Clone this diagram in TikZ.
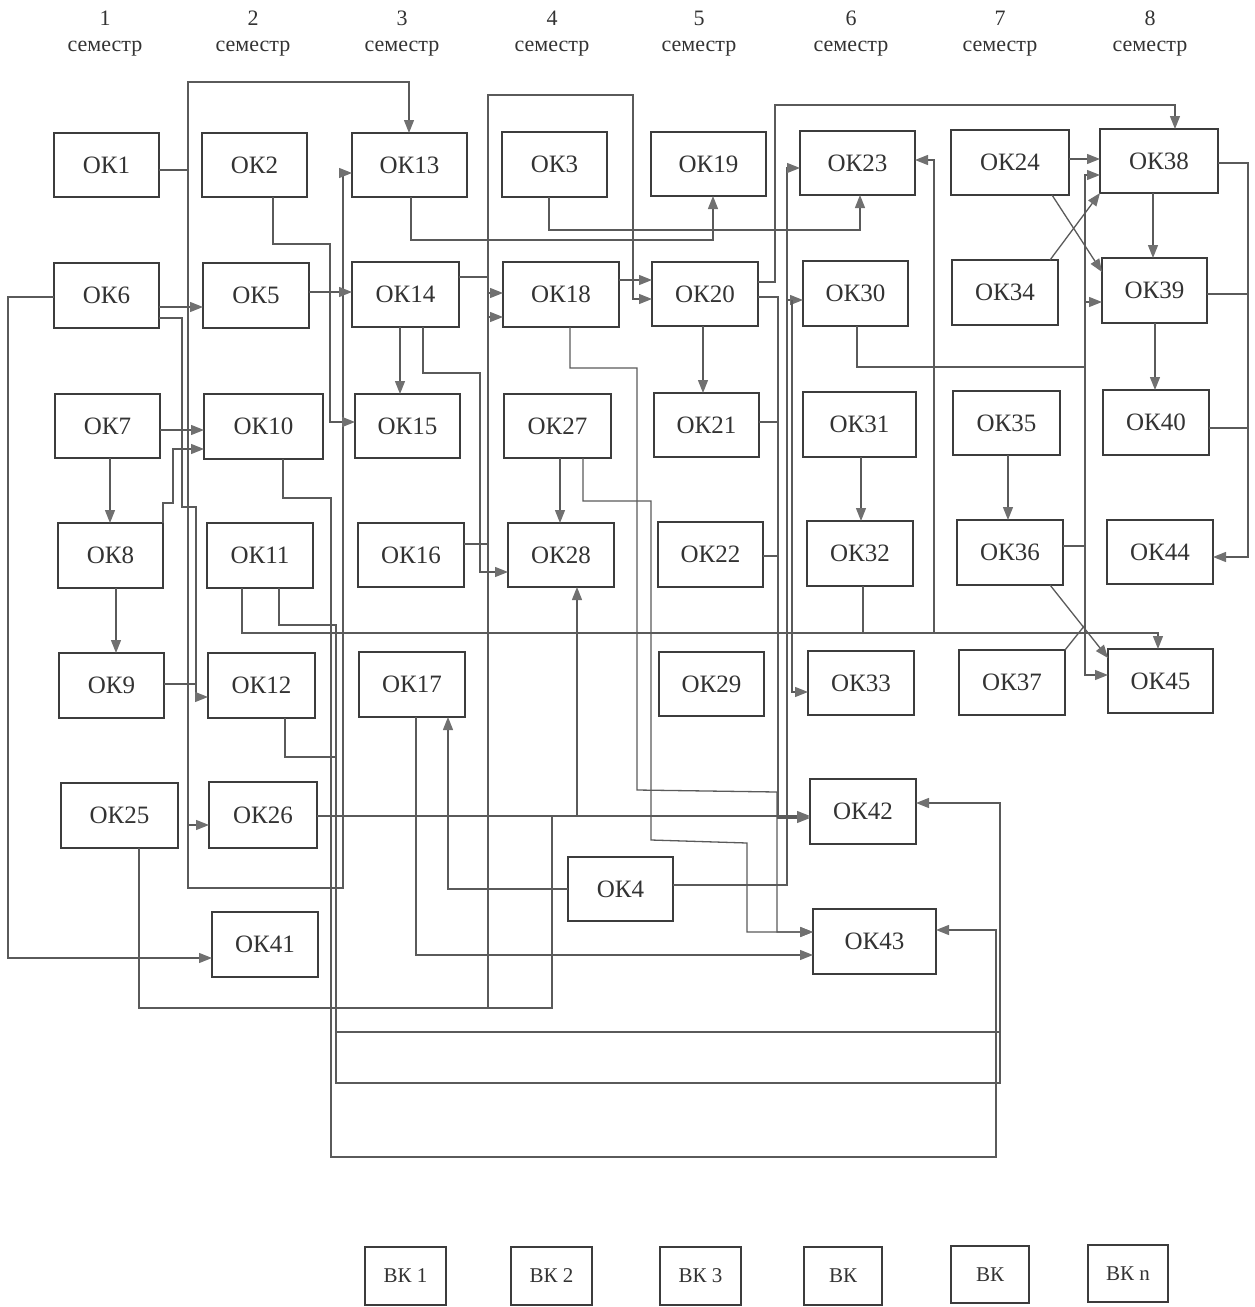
\documentclass[tikz,border=0pt]{standalone}
\usepackage{fontspec}
\setmainfont{Liberation Serif}
\usetikzlibrary{arrows.meta}
\definecolor{ln}{HTML}{5A5A5A}
\definecolor{bd}{HTML}{3C3C3C}
\definecolor{tx}{HTML}{333333}
\definecolor{ah}{HTML}{707070}
\tikzset{
 box/.style={draw=bd, line width=1.6pt, inner sep=0pt, outer sep=0pt, text=tx, font=\fontsize{25}{30}\selectfont},
 bkbox/.style={box, font=\fontsize{21}{25}\selectfont},
 con/.style={draw=ln, line width=1.3pt},
 arr/.style={con, -{Triangle[length=13pt,width=10pt,color=ah]}},
 hdr/.style={text=tx, font=\fontsize{22}{26}\selectfont, inner sep=0pt},
}
\newcommand\bx[6]{\node[box, minimum width={(#4-#2)*1pt}, minimum height={(#5-#3)*1pt}] (#1) at ({(#2+#4)/2},{(#3+#5)/2}) {#6};}
\newcommand\bkx[6]{\node[bkbox, minimum width={(#4-#2)*1pt}, minimum height={(#5-#3)*1pt}] (#1) at ({(#2+#4)/2},{(#3+#5)/2}) {#6};}
\begin{document}
\begin{tikzpicture}[x=1pt,y=-1pt]
\useasboundingbox (0,0) rectangle (1254,1307);
% headers
\foreach \i/\x in {1/105,2/253,3/402,4/552,5/699,6/851,7/1000,8/1150}{
  \node[hdr] (n\i) at (\x,18) {\i};
  \node[hdr] (s\i) at (\x,49) {семестр};
}
% boxes
\bx{ok1}{54}{133}{159}{197}{ОК1}
\bx{ok2}{202}{133}{307}{197}{ОК2}
\bx{ok13}{352}{133}{467}{197}{ОК13}
\bx{ok3}{502}{132}{607}{197}{ОК3}
\bx{ok19}{651}{132}{766}{196}{ОК19}
\bx{ok23}{800}{131}{915}{195}{ОК23}
\bx{ok24}{951}{130}{1069}{195}{ОК24}
\bx{ok38}{1100}{129}{1218}{193}{ОК38}
\bx{ok6}{54}{263}{159}{328}{ОК6}
\bx{ok5}{203}{263}{309}{328}{ОК5}
\bx{ok14}{352}{262}{459}{327}{ОК14}
\bx{ok18}{503}{262}{619}{327}{ОК18}
\bx{ok20}{652}{262}{758}{326}{ОК20}
\bx{ok30}{803}{261}{908}{326}{ОК30}
\bx{ok34}{952}{260}{1058}{325}{ОК34}
\bx{ok39}{1102}{258}{1207}{323}{ОК39}
\bx{ok7}{55}{394}{160}{458}{ОК7}
\bx{ok10}{204}{394}{323}{459}{ОК10}
\bx{ok15}{355}{394}{460}{458}{ОК15}
\bx{ok27}{504}{394}{611}{458}{ОК27}
\bx{ok21}{654}{393}{759}{457}{ОК21}
\bx{ok31}{803}{392}{916}{457}{ОК31}
\bx{ok35}{953}{391}{1060}{455}{ОК35}
\bx{ok40}{1103}{390}{1209}{455}{ОК40}
\bx{ok8}{58}{523}{163}{588}{ОК8}
\bx{ok11}{207}{523}{313}{588}{ОК11}
\bx{ok16}{358}{523}{464}{587}{ОК16}
\bx{ok28}{508}{523}{614}{587}{ОК28}
\bx{ok22}{658}{522}{763}{587}{ОК22}
\bx{ok32}{807}{521}{913}{586}{ОК32}
\bx{ok36}{957}{520}{1063}{585}{ОК36}
\bx{ok44}{1107}{520}{1213}{584}{ОК44}
\bx{ok9}{59}{653}{164}{718}{ОК9}
\bx{ok12}{208}{653}{315}{718}{ОК12}
\bx{ok17}{359}{652}{465}{717}{ОК17}
\bx{ok29}{659}{652}{764}{716}{ОК29}
\bx{ok33}{808}{651}{914}{715}{ОК33}
\bx{ok37}{959}{650}{1065}{715}{ОК37}
\bx{ok45}{1108}{649}{1213}{713}{ОК45}
\bx{ok25}{61}{783}{178}{848}{ОК25}
\bx{ok26}{209}{782}{317}{848}{ОК26}
\bx{ok42}{810}{779}{916}{844}{ОК42}
\bx{ok4}{568}{857}{673}{921}{ОК4}
\bx{ok43}{813}{909}{936}{974}{ОК43}
\bx{ok41}{212}{912}{318}{977}{ОК41}
\bkx{bk1}{365}{1247}{446}{1305}{ВК 1}
\bkx{bk2}{511}{1247}{592}{1305}{ВК 2}
\bkx{bk3}{660}{1247}{741}{1305}{ВК 3}
\bkx{bk4}{804}{1247}{882}{1305}{ВК}
\bkx{bk5}{951}{1246}{1029}{1303}{ВК}
\bkx{bk6}{1088}{1245}{1168}{1302}{ВК n}
% junction coordinates
\coordinate (j1) at (188,170);
\coordinate (j2) at (188,825);
\coordinate (j3) at (336,1032);
\coordinate (j4) at (488,277);
\coordinate (j5) at (577,816);
\coordinate (j6) at (792,300);
\coordinate (j7) at (934,633);
\coordinate (j8) at (1085,367);
\coordinate (j9) at (1085,625);
% connectors: column 1-2
\draw[arr] (ok1.east |- 0,170) -- (j1) -- (188,82) -- (409,82) -- (ok13.north -| 409,0);
\draw[arr] (j1) -- (188,888) -- (343,888) -- (343,173) -- (ok13.west |- 0,173);
\draw[arr] (j2) -- (ok26.west |- 0,825);
\draw[arr] (ok6.east |- 0,307) -- (ok5.west |- 0,307);
\draw[arr] (ok6.east |- 0,318) -- (182,318) -- (182,507) -- (196,507) -- (196,697) -- (ok12.west |- 0,697);
\draw[con] (ok9.east |- 0,684) -- (196,684);
\draw[arr] (ok6.west |- 0,297) -- (8,297) -- (8,958) -- (ok41.west |- 0,958);
\draw[arr] (ok7.east |- 0,430) -- (ok10.west |- 0,430);
\draw[arr] (ok8.north east) -- (163,503) -- (173,503) -- (173,449) -- (ok10.west |- 0,449);
\draw[arr] (ok7.south -| 110,0) -- (ok8.north -| 110,0);
\draw[arr] (ok8.south -| 116,0) -- (ok9.north -| 116,0);
% column 2-3
\draw[arr] (ok2.south -| 273,0) -- (273,244) -- (330,244) -- (330,422) -- (ok15.west |- 0,422);
\draw[arr] (ok5.east |- 0,292) -- (ok14.west |- 0,292);
\draw[arr] (ok10.south -| 283,0) -- (283,498) -- (331,498) -- (331,1157) -- (996,1157) -- (996,930) -- (ok43.east |- 0,930);
\draw[arr] (ok11.south -| 279,0) -- (279,625) -- (336,625) -- (336,1083) -- (1000,1083) -- (1000,803) -- (ok42.east |- 0,803);
\draw[con] (ok12.south -| 285,0) -- (285,757) -- (336,757);
\draw[con] (j3) -- (1000,1032);
\draw[arr] (ok11.south -| 242,0) -- (242,633) -- (1158,633) -- (ok45.north -| 1158,0);
% column 3-5
\draw[arr] (ok13.south -| 411,0) -- (411,240) -- (713,240) -- (ok19.south -| 713,0);
\draw[arr] (ok3.south -| 549,0) -- (549,230) -- (860,230) -- (ok23.south -| 860,0);
\draw[arr] (ok14.south -| 400,0) -- (ok15.north -| 400,0);
\draw[arr] (ok14.south -| 423,0) -- (423,373) -- (480,373) -- (480,572) -- (ok28.west |- 0,572);
\draw[arr] (ok14.east |- 0,277) -- (j4) -- (488,95) -- (633,95) -- (633,299) -- (ok20.west |- 0,299);
\draw[con] (j4) -- (488,1008);
\draw[arr] (488,293) -- (ok18.west |- 0,293);
\draw[arr] (488,317) -- (ok18.west |- 0,317);
\draw[con] (ok16.east |- 0,544) -- (488,544);
\draw[arr] (ok18.east |- 0,280) -- (ok20.west |- 0,280);
\draw[arr] (ok18.south -| 570,0) -- (570,368) -- (637,368) -- (637,790) -- (777,792) -- (777,932) -- (ok43.west |- 0,932);
\draw[arr] (ok27.south -| 560,0) -- (ok28.north -| 560,0);
\draw[arr] (ok27.south -| 583,0) -- (583,501) -- (651,501) -- (651,840) -- (747,843) -- (747,932) -- (ok43.west |- 0,932);
\draw[arr] (ok17.south -| 416,0) -- (416,955) -- (ok43.west |- 0,955);
\draw[arr] (ok4.west |- 0,889) -- (448,889) -- (ok17.south -| 448,0);
\draw[arr] (ok4.east |- 0,885) -- (787,885) -- (787,168) -- (ok23.west |- 0,168);
\draw[arr] (787,300) -- (ok30.west |- 0,300);
\draw[arr] (ok20.east |- 0,297) -- (778,297) -- (778,818) -- (ok42.west |- 0,818);
\draw[con] (ok21.east |- 0,422) -- (778,422);
\draw[con] (ok22.east |- 0,556) -- (778,556);
\draw[arr] (j6) -- (792,692) -- (ok33.west |- 0,692);
\draw[arr] (ok20.south -| 703,0) -- (ok21.north -| 703,0);
\draw[arr] (ok20.east |- 0,282) -- (775,282) -- (775,105) -- (1175,105) -- (ok38.north -| 1175,0);
\draw[arr] (ok26.east |- 0,816) -- (ok42.west |- 0,816);
\draw[con] (ok25.south -| 139,0) -- (139,1008) -- (552,1008) -- (552,816);
\draw[arr] (j5) -- (ok28.south -| 577,0);
% columns 6-8
\draw[arr] (j7) -- (934,160) -- (ok23.east |- 0,160);
\draw[con] (ok32.south -| 863,0) -- (863,633);
\draw[con] (ok30.south -| 857,0) -- (857,367) -- (j8);
\draw[arr] (j8) -- (1085,175) -- (ok38.west |- 0,175);
\draw[arr] (1085,302) -- (ok39.west |- 0,302);
\draw[arr] (j8) -- (1085,675) -- (ok45.west |- 0,675);
\draw[con] (ok36.east |- 0,546) -- (1085,546);
\draw[arr] (ok24.east |- 0,159) -- (ok38.west |- 0,159);
\draw[arr] (ok24.south -| 1052,0) -- (ok39.west |- 0,272);
\draw[arr] (ok34.north -| 1050,0) -- (ok38.south west);
\draw[arr] (ok36.south -| 1050,0) -- (ok45.west |- 0,658);
\draw[con] (ok37.north east) -- (j9);
\draw[arr] (ok38.south -| 1153,0) -- (ok39.north -| 1153,0);
\draw[arr] (ok39.south -| 1155,0) -- (ok40.north -| 1155,0);
\draw[arr] (ok38.east |- 0,163) -- (1248,163) -- (1248,557) -- (ok44.east |- 0,557);
\draw[con] (ok39.east |- 0,294) -- (1248,294);
\draw[con] (ok40.east |- 0,428) -- (1248,428);
\draw[arr] (ok31.south -| 861,0) -- (ok32.north -| 861,0);
\draw[arr] (ok35.south -| 1008,0) -- (ok36.north -| 1008,0);
\end{tikzpicture}
\end{document}
